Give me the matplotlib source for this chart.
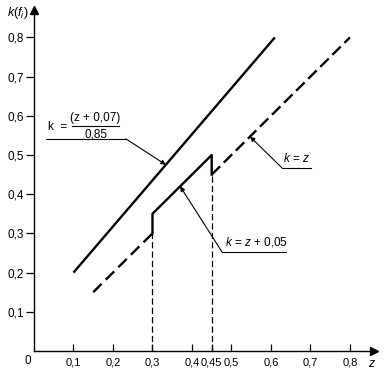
"""
k(f_i) als Funktion von z - Nachbildung des Diagramms
"""

import matplotlib
matplotlib.use('Agg')
import matplotlib.pyplot as plt

plt.rcParams['font.family'] = ['Liberation Sans', 'DejaVu Sans']
plt.rcParams['mathtext.fontset'] = 'custom'
plt.rcParams['mathtext.it'] = 'Liberation Sans:italic'
plt.rcParams['mathtext.rm'] = 'Liberation Sans'

# Obere Gerade k = (z + 0,07) / 0,85
z_upper = [0.10, 0.61]
k_upper = [0.20, 0.80]

# k = z, gestrichelt (zwei Abschnitte)
z_dash_a = [0.15, 0.30]
k_dash_a = [0.15, 0.30]
z_dash_b = [0.45, 0.80]
k_dash_b = [0.45, 0.80]

# k = z + 0,05 mit Sprüngen bei 0,3 und 0,45
z_step = [0.30, 0.30, 0.45, 0.45]
k_step = [0.30, 0.35, 0.50, 0.45]

# senkrechte Hilfslinien
z_vert = [0.30, 0.45]
k_vert = [0.30, 0.45]

x_ticks = [0.1, 0.2, 0.3, 0.4, 0.45, 0.5, 0.6, 0.7, 0.8]
x_labels = ['0,1', '0,2', '0,3', '0,4', '0,45', '0,5', '0,6', '0,7', '0,8']
y_ticks = [0.1, 0.2, 0.3, 0.4, 0.5, 0.6, 0.7, 0.8]
y_labels = ['0,1', '0,2', '0,3', '0,4', '0,5', '0,6', '0,7', '0,8']

fs = 8.5

fig = plt.figure(figsize=(3.86, 3.76), dpi=100)
ax = fig.add_axes([0.088, 0.0665, 0.880, 0.907])
ax.set_xlim(0, 0.86)
ax.set_ylim(0, 0.87)

# Kurven
ax.plot(z_upper, k_upper, color='black', lw=1.7, solid_capstyle='butt')
ax.plot(z_dash_a, k_dash_a, color='black', lw=1.7, dashes=(5, 2.5))
ax.plot(z_dash_b, k_dash_b, color='black', lw=1.7, dashes=(5, 2.2))
ax.plot(z_step, k_step, color='black', lw=1.7)
for z, k in zip(z_vert, k_vert):
    ax.plot([z, z], [0, k], color='black', lw=0.9, dashes=(5, 2.5))

# Achsen
for side in ['top', 'right']:
    ax.spines[side].set_visible(False)
for side in ['left', 'bottom']:
    ax.spines[side].set_linewidth(1.0)
ax.plot(1, 0, '>', color='black', markersize=6, transform=ax.transAxes, clip_on=False)
ax.plot(0, 1, '^', color='black', markersize=6, transform=ax.transAxes, clip_on=False)

ax.set_xticks(x_ticks)
ax.set_xticklabels(x_labels, fontsize=8)
ax.set_yticks(y_ticks)
ax.set_yticklabels(y_labels, fontsize=fs)
ax.tick_params(axis='x', direction='in', length=5, width=0.9, pad=5)
ax.tick_params(axis='y', direction='out', length=6, width=0.9, pad=1.5)

ax.text(-0.008, -0.01, '0', ha='right', va='top', fontsize=fs)
fig.text(0.018, 0.965, r'$k(f_i)$', fontsize=9, ha='left', va='center')
ax.text(0.855, -0.032, r'$z$', fontsize=9, ha='center', va='center')

# Beschriftung obere Gerade
lw_lead = 0.8
ax.plot([0.030, 0.233], [0.541, 0.541], color='black', lw=lw_lead)
ax.annotate('', xy=(0.334, 0.475), xytext=(0.233, 0.541),
            arrowprops=dict(arrowstyle='-|>', color='black', lw=lw_lead,
                            mutation_scale=7, shrinkA=0, shrinkB=0))
ax.text(0.036, 0.572, 'k  =', fontsize=fs, ha='left', va='center')
ax.text(0.155, 0.595, '(z + 0,07)', fontsize=fs, ha='center', va='center')
ax.plot([0.097, 0.215], [0.573, 0.573], color='black', lw=0.8)
ax.text(0.157, 0.553, '0,85', fontsize=fs, ha='center', va='center')

# Beschriftung k = z
ax.annotate('', xy=(0.547, 0.547), xytext=(0.628, 0.467),
            arrowprops=dict(arrowstyle='-|>', color='black', lw=lw_lead,
                            mutation_scale=7, shrinkA=0, shrinkB=0))
ax.plot([0.628, 0.701], [0.467, 0.467], color='black', lw=lw_lead)
ax.text(0.665, 0.474, r'$k$ = $z$', fontsize=fs, ha='center', va='bottom')

# Beschriftung k = z + 0,05
ax.annotate('', xy=(0.37, 0.42), xytext=(0.476, 0.253),
            arrowprops=dict(arrowstyle='-|>', color='black', lw=lw_lead,
                            mutation_scale=7, shrinkA=0, shrinkB=0))
ax.plot([0.476, 0.638], [0.253, 0.253], color='black', lw=lw_lead)
ax.text(0.483, 0.260, r'$k$ = $z$ + 0,05', fontsize=fs, ha='left', va='bottom')

fig.savefig('out.png', dpi=100)
